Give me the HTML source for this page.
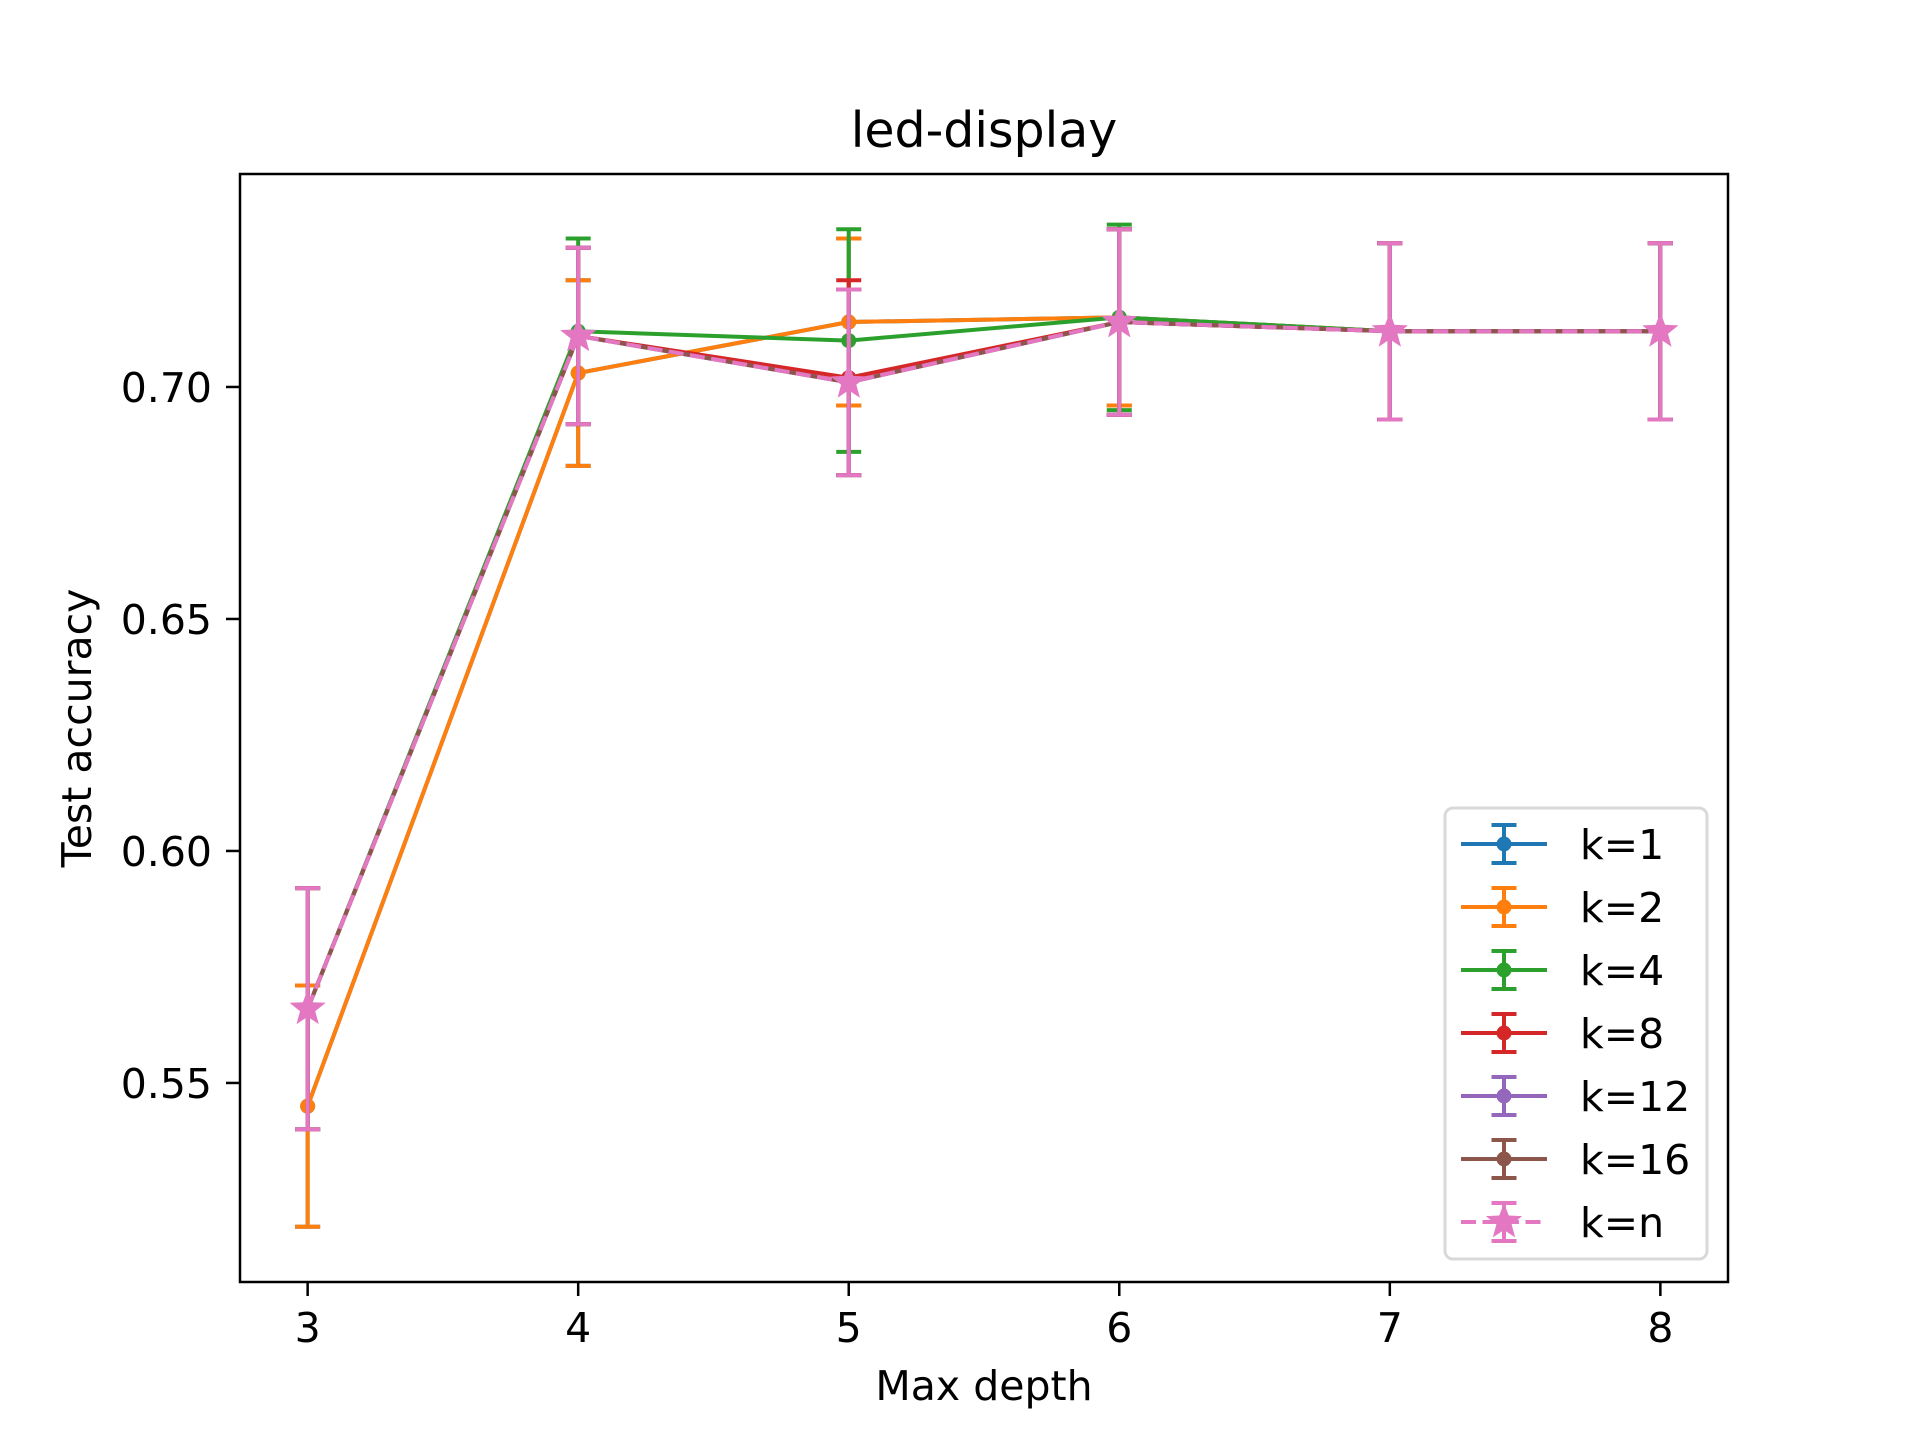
<!DOCTYPE html>
<html><head><meta charset="utf-8"><style>
body{margin:0;background:#fff}
svg text{font-family:"DejaVu Sans","Liberation Sans",sans-serif;fill:#000}
</style></head><body>
<svg id="c" width="1920" height="1440" viewBox="0 0 1920 1440" xmlns="http://www.w3.org/2000/svg">
<rect width="1920" height="1440" fill="#fff"/>
<text x="984" y="147" font-size="49" text-anchor="middle">led-display</text>
<text x="984" y="1400" font-size="41" text-anchor="middle">Max depth</text>
<text transform="translate(91,728) rotate(-90)" font-size="41" text-anchor="middle">Test accuracy</text>
<g id="plot"></g>
<rect x="240" y="174" width="1488" height="1108" fill="none" stroke="#000" stroke-width="2.5"/>
<g id="legend"></g>
</svg>
<script>
const depths=[3,4,5,6,7,8];
const seriesNames=["k=1","k=2","k=4","k=8","k=12","k=16","k=n"];
const colors=["#1f77b4","#ff7f0e","#2ca02c","#d62728","#9467bd","#8c564b","#e377c2"];
const k1Mean=[0.545,0.703,0.714,0.715,0.712,0.712];
const k1Err=[0.026,0.020,0.018,0.019,0.019,0.019];
const k2Mean=[0.545,0.703,0.714,0.715,0.712,0.712];
const k2Err=[0.026,0.020,0.018,0.019,0.019,0.019];
const k4Mean=[0.566,0.712,0.710,0.715,0.712,0.712];
const k4Err=[0.026,0.020,0.024,0.020,0.019,0.019];
const k8Mean=[0.566,0.711,0.702,0.714,0.712,0.712];
const k8Err=[0.026,0.019,0.021,0.020,0.019,0.019];
const k12Mean=[0.566,0.711,0.701,0.714,0.712,0.712];
const k12Err=[0.026,0.019,0.020,0.020,0.019,0.019];
const k16Mean=[0.566,0.711,0.701,0.714,0.712,0.712];
const k16Err=[0.026,0.019,0.020,0.020,0.019,0.019];
const knMean=[0.566,0.711,0.701,0.714,0.712,0.712];
const knErr=[0.026,0.019,0.020,0.020,0.019,0.019];
const xTicks=[3,4,5,6,7,8];
const yTicks=[0.55,0.60,0.65,0.70];
const yTickLabels=["0.55","0.60","0.65","0.70"];

const means=[k1Mean,k2Mean,k4Mean,k8Mean,k12Mean,k16Mean,knMean];
const errs=[k1Err,k2Err,k4Err,k8Err,k12Err,k16Err,knErr];
const X0=240,X1=1728,Y0=174,Y1=1282,xmin=2.75,xmax=8.25,ymin=0.5071,ymax=0.7459;
const xs=v=>X0+(v-xmin)/(xmax-xmin)*(X1-X0);
const ys=v=>Y1-(v-ymin)/(ymax-ymin)*(Y1-Y0);
const NS="http://www.w3.org/2000/svg";
const svg=document.getElementById('c'),plot=document.getElementById('plot'),leg=document.getElementById('legend');
function mk(t,a,p){const e=document.createElementNS(NS,t);for(const k in a)e.setAttribute(k,a[k]);(p||plot).appendChild(e);return e;}
function star(cx,cy,r){let p=[];for(let i=0;i<10;i++){const rr=i%2?r*0.42:r;const a=-Math.PI/2+i*Math.PI/5;p.push((cx+rr*Math.cos(a)).toFixed(1)+","+(cy+rr*Math.sin(a)).toFixed(1));}return p.join(" ");}
xTicks.forEach(v=>{
  const t=mk('line',{x1:xs(v),x2:xs(v),y1:Y1,y2:Y1+14,stroke:'#000','stroke-width':2.5},svg);
  
  
  const l=mk('text',{x:xs(v),y:Y1+60,'font-size':41,'text-anchor':'middle'},svg);l.textContent=v;
  
  
});
yTicks.forEach((v,i)=>{
  const t=mk('line',{x1:X0-14,x2:X0,y1:ys(v),y2:ys(v),stroke:'#000','stroke-width':2.5},svg);
  
  
  const l=mk('text',{x:X0-28,y:ys(v)+15,'font-size':41,'text-anchor':'end'},svg);l.textContent=yTickLabels[i];
  
  
});
means.forEach((m,s)=>{
  const c=colors[s],g=mk('g',{});
  
  
  const pts=depths.map((d,i)=>xs(d)+","+ys(m[i])).join(" ");
  const pl=mk('polyline',{points:pts,fill:'none',stroke:c,'stroke-width':4,'stroke-dasharray':s==6?'15,6.5':'none'},g);
  
  
  depths.forEach((d,i)=>{
    const x=xs(d),yt=ys(m[i]+errs[s][i]),yb=ys(m[i]-errs[s][i]);
    const e=mk('path',{d:`M${x},${yt}V${yb}M${x-12.5},${yt}H${x+12.5}M${x-12.5},${yb}H${x+12.5}`,stroke:c,'stroke-width':4,fill:'none'},g);
    
    
    let mkr;
    if(s==6) mkr=mk('polygon',{points:star(x,ys(m[i]),19),fill:c},g);
    else mkr=mk('circle',{cx:x,cy:ys(m[i]),r:7.5,fill:c},g);
    
    
  });
});
const box=mk('rect',{x:1445,y:808,width:262,height:451,rx:8,fill:'#fff','fill-opacity':0.8,stroke:'#d9d9d9','stroke-width':3},leg);


seriesNames.forEach((n,s)=>{
  const y=844+s*63,c=colors[s];
  const g=mk('g',{},leg);
  
  
  mk('line',{x1:1461,x2:1547,y1:y,y2:y,stroke:c,'stroke-width':4,'stroke-dasharray':s==6?'15,6.5':'none'},g);
  mk('path',{d:`M1504,${y-19}V${y+19}M1491.5,${y-19}H1516.5M1491.5,${y+19}H1516.5`,stroke:c,'stroke-width':4,fill:'none'},g);
  if(s==6) mk('polygon',{points:star(1504,y,19),fill:c},g); else mk('circle',{cx:1504,cy:y,r:7.5,fill:c},g);
  const t=mk('text',{x:1580,y:y+15,'font-size':41},g);t.textContent=n;
});
</script>
</body></html>
